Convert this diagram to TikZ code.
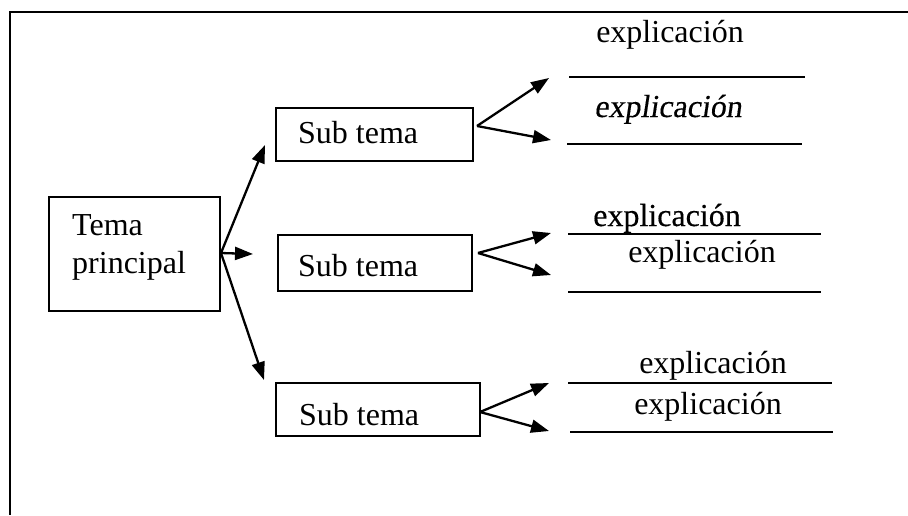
\documentclass[tikz,border=0pt]{standalone}
\usepackage{fontspec}
\setmainfont{Liberation Serif}
\newfontfamily\slfont[FakeSlant=0.15,FakeBold=0.3]{Liberation Serif}
\newfontfamily\bdfont[FakeBold=0.4]{Liberation Serif}
\usetikzlibrary{arrows.meta}
\begin{document}
\begin{tikzpicture}[x=1pt,y=-1pt,
  frameline/.style={line width=2.2pt},
  boxshape/.style={draw,line width=2.3pt,rectangle,inner sep=0pt},
  lbl/.style={font=\fontsize{32}{38}\selectfont,inner sep=0pt},
  conn/.style={line width=2.3pt,-{Triangle[length=18pt,width=13pt]}},
  rule/.style={line width=2.3pt}]
\useasboundingbox (0,0) rectangle (908,515);
% frame
\coordinate (ftl) at (10,12);
\coordinate (ftr) at (908,12);
\coordinate (fbl) at (10,515);
\draw[frameline] (ftr) -- (ftl) -- (fbl);
% main box
\node[boxshape,minimum width=171pt,minimum height=114pt] (main) at (134.5,254) {};
\node[lbl,anchor=base west,align=left] (maintext) at (72,273) {Tema\\principal};
% sub boxes
\node[boxshape,minimum width=197pt,minimum height=53pt] (s1) at (374.5,134.5) {};
\node[lbl,anchor=base west] (s1t) at (298,143) {Sub tema};
\node[boxshape,minimum width=194pt,minimum height=56pt] (s2) at (375,263) {};
\node[lbl,anchor=base west] (s2t) at (298,276) {Sub tema};
\node[boxshape,minimum width=204pt,minimum height=53pt] (s3) at (378,409.5) {};
\node[lbl,anchor=base west] (s3t) at (299,425) {Sub tema};
% connectors from main
\coordinate (m0) at (221,253);
\coordinate (m1) at (265,145);
\coordinate (m2) at (253,254);
\coordinate (m3) at (264,380);
\draw[conn] (m0) -- (m1);
\draw[conn] (m0) -- (m2);
\draw[conn] (m0) -- (m3);
% connectors from sub boxes
\coordinate (a0) at (477,126);
\coordinate (a1) at (549,78);
\coordinate (a2) at (551,140);
\draw[conn] (a0) -- (a1);
\draw[conn] (a0) -- (a2);
\coordinate (b0) at (478,253);
\coordinate (b1) at (551,233);
\coordinate (b2) at (551,275);
\draw[conn] (b0) -- (b1);
\draw[conn] (b0) -- (b2);
\coordinate (c0) at (480,412);
\coordinate (c1) at (549,383);
\coordinate (c2) at (549,431);
\draw[conn] (c0) -- (c1);
\draw[conn] (c0) -- (c2);
% explanation rules
\coordinate (r1a) at (569,77);  \coordinate (r1b) at (805,77);
\coordinate (r2a) at (567,144); \coordinate (r2b) at (802,144);
\coordinate (r3a) at (568,234); \coordinate (r3b) at (821,234);
\coordinate (r4a) at (568,292); \coordinate (r4b) at (821,292);
\coordinate (r5a) at (568,383); \coordinate (r5b) at (832,383);
\coordinate (r6a) at (570,432); \coordinate (r6b) at (833,432);
\draw[rule] (r1a) -- (r1b);
\draw[rule] (r2a) -- (r2b);
\draw[rule] (r3a) -- (r3b);
\draw[rule] (r4a) -- (r4b);
\draw[rule] (r5a) -- (r5b);
\draw[rule] (r6a) -- (r6b);
% explanation texts
\node[lbl,anchor=base] (e1) at (670,42) {explicación};
\node[lbl,anchor=base] (e2) at (668,117) {\slfont explicación};
\node[lbl,anchor=base] (e3) at (667,226) {\bdfont explicación};
\node[lbl,anchor=base] (e4) at (702,262) {explicación};
\node[lbl,anchor=base] (e5) at (713,373) {explicación};
\node[lbl,anchor=base] (e6) at (708,414) {explicación};
\end{tikzpicture}
\end{document}
